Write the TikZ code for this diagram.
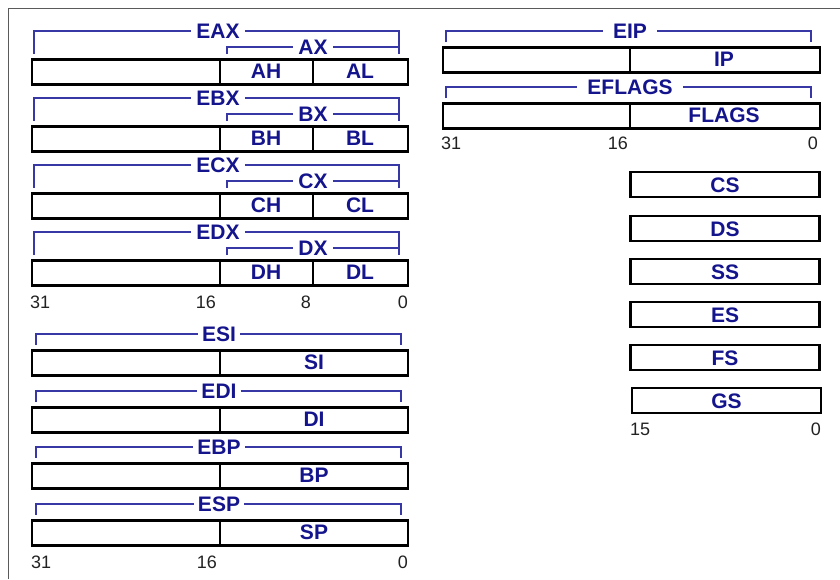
\documentclass[tikz,border=0pt]{standalone}
\usepackage{fontspec}
\setmainfont{Liberation Sans}
\definecolor{regname}{RGB}{20,20,140}
\definecolor{brace}{RGB}{55,55,165}
\definecolor{numgray}{RGB}{34,34,34}
\definecolor{frameline}{RGB}{90,90,90}
\begin{document}
\begin{tikzpicture}[x=1pt,y=-1pt,
  regbox/.style={draw=black, line width=2.9pt, fill=white, minimum height=25pt, inner sep=0pt},
  cell/.style={text=regname, font=\fontsize{21}{21}\selectfont\bfseries, inner sep=0pt},
  brlabel/.style={text=regname, font=\fontsize{21}{21}\selectfont\bfseries, inner xsep=5pt, inner ysep=0pt},
  widelabel/.style={brlabel, inner xsep=10pt},
  bracket/.style={draw=brace, line width=1.4pt},
  divider/.style={draw=black, line width=2.9pt},
  bitnum/.style={font=\fontsize{18}{18}\selectfont, text=numgray, inner sep=0pt},
]
\useasboundingbox (0,0) rectangle (840,579);
\draw[frameline, line width=1pt] (8,579) -- (8,8) -- (840,8);

% ---- general purpose registers with byte halves ----
\foreach \L/\t in {A/58,B/125,C/192,D/259}{
  \node[regbox, minimum width=376, anchor=north west] (E\L X) at (30.5,\t) {};
  \draw[divider] (E\L X.north) -- (E\L X.south);
  \coordinate (\L bd) at (313,\t);
  \draw[divider] (\L bd |- E\L X.north) -- (\L bd |- E\L X.south);
  \node[cell] (\L H) at (266,\t+13) {\L H};
  \node[cell] (\L L) at (360,\t+13) {\L L};
  % 32-bit bracket
  \node[brlabel] (E\L Xlbl) at (218,\t-27) {E\L X};
  \coordinate (E\L Xl) at (34,\t-4);
  \coordinate (E\L Xr) at (399,\t-4);
  \draw[bracket] (E\L Xl) |- (E\L Xlbl.west);
  \draw[bracket] (E\L Xlbl.east) -| (E\L Xr);
  % 16-bit bracket
  \node[brlabel] (\L Xlbl) at (313,\t-11) {\L X};
  \coordinate (\L Xl) at (227,\t-4);
  \draw[bracket] (\L Xl) |- (\L Xlbl.west);
  \draw[bracket] (\L Xlbl.east) -| (E\L Xr);
}
\node[bitnum, anchor=west] (a31) at (30,302) {31};
\node[bitnum, anchor=east] (a16) at (216,302) {16};
\node[bitnum, anchor=east] (a8) at (311,302) {8};
\node[bitnum, anchor=east] (a0) at (408,302) {0};

% ---- index and pointer registers ----
\foreach \N/\H/\t in {ESI/SI/349,EDI/DI/406,EBP/BP/462,ESP/SP/519}{
  \node[regbox, minimum width=376, anchor=north west] (\N) at (30.5,\t) {};
  \coordinate (\N d) at (220,\t);
  \draw[divider] (\N d |- \N.north) -- (\N d |- \N.south);
  \node[cell] (\H) at (314,\t+13) {\H};
  \node[brlabel, inner xsep=4pt] (\N lbl) at (219,\t-15) {\N};
  \coordinate (\N l) at (36,\t-4);
  \coordinate (\N r) at (401,\t-4);
  \draw[bracket] (\N l) |- (\N lbl.west);
  \draw[bracket] (\N lbl.east) -| (\N r);
}
\node[bitnum, anchor=west] (b31) at (31,562) {31};
\node[bitnum, anchor=east] (b16) at (217,562) {16};
\node[bitnum, anchor=east] (b0) at (408,562) {0};

% ---- instruction pointer and flags ----
\foreach \N/\H/\t in {EIP/IP/46,EFLAGS/FLAGS/102}{
  \node[regbox, minimum width=377, anchor=north west] (\N) at (441.5,\t) {};
  \coordinate (\N d) at (630,\t);
  \draw[divider] (\N d |- \N.north) -- (\N d |- \N.south);
  \node[cell] (\H) at (724,\t+13) {\H};
  \node[widelabel] (\N lbl) at (630,\t-15) {\N};
  \coordinate (\N l) at (446,\t-4);
  \coordinate (\N r) at (811,\t-4);
  \draw[bracket] (\N l) |- (\N lbl.west);
  \draw[bracket] (\N lbl.east) -| (\N r);
}
\node[bitnum, anchor=west] (c31) at (441,143.5) {31};
\node[bitnum, anchor=east] (c16) at (628,143.5) {16};
\node[bitnum, anchor=east] (c0) at (818,143.5) {0};

% ---- segment registers ----
\foreach \N/\t/\x in {CS/172/725,DS/216/725,SS/259/725,ES/302/725,FS/345/725,GS/388/726.5}{
  \node[regbox, minimum width=189] (\N) at (\x,\t+12.5) {};
  \node[cell] (\N txt) at (\x,\t+13) {\N};
}
\node[bitnum, anchor=west] (s15) at (630,429) {15};
\node[bitnum, anchor=east] (s0) at (821,429) {0};
\end{tikzpicture}
\end{document}
